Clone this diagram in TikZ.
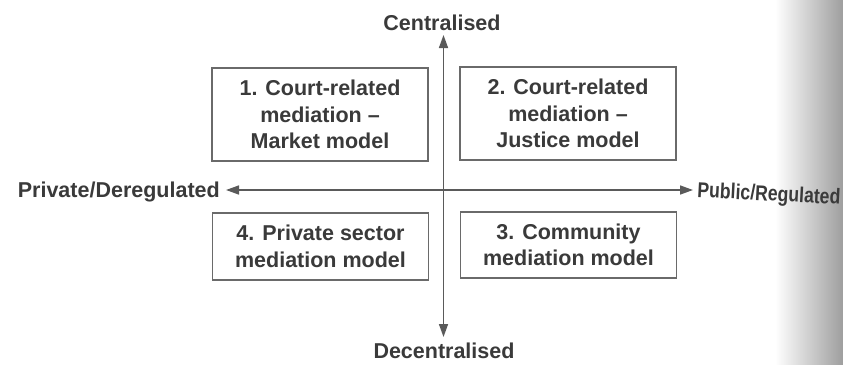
\documentclass[tikz,border=0pt]{standalone}
\usepackage{fontspec}
\setmainfont{Liberation Sans}
\usetikzlibrary{arrows.meta}
\definecolor{inkc}{HTML}{3A3A3A}
\definecolor{linec}{HTML}{5A5A5A}
\definecolor{boxc}{HTML}{6A6A6A}
\tikzset{
  quadbox/.style={draw=boxc, line width=1.3pt, minimum width=216pt, align=center, inner sep=0pt,
    text=inkc, font=\fontsize{21.5}{26.5}\selectfont\bfseries},
  axislabel/.style={text=inkc, font=\fontsize{21.5}{26.5}\selectfont\bfseries, inner sep=0pt},
  axisline/.style={draw=linec, line width=1.5pt, {Triangle[length=13pt,width=9pt]}-{Triangle[length=13pt,width=9pt]}}
}
\begin{document}
\begin{tikzpicture}[x=1pt,y=-1pt]
\useasboundingbox (0,0) rectangle (843,364);
\fill[white] (0,0) rectangle (843,364);
\shade[left color=white, right color=black!38] (775,0) rectangle (843,364);
% boxes
\node[quadbox, minimum height=93pt] (b1) at (320,114.5) {1. Court-related\\mediation --\\Market model};
\node[quadbox, minimum height=93pt] (b2) at (568,113.5) {2. Court-related\\mediation --\\Justice model};
\node[quadbox, minimum height=67pt] (b4) at (320.5,246.5) {4. Private sector\\mediation model};
\node[quadbox, minimum height=66pt] (b3) at (568.5,245) {3. Community\\mediation model};
% axis labels
\node[axislabel, anchor=base] (cen) at (442,30) {Centralised};
\node[axislabel, anchor=base] (dec) at (444,358) {Decentralised};
\node[axislabel, anchor=base east] (prv) at (220,197) {Private/Deregulated};
\node[axislabel, anchor=base west, rotate=-3, xscale=0.82] (pub) at (697,197) {Public/Regulated};
% axes
\coordinate (vtop) at (443.5,35);
\coordinate (vbot) at (443.5,337);
\coordinate (hl) at (226,190);
\coordinate (hr) at (693,190);
\draw[axisline] (vtop) -- (vbot);
\draw[axisline] (hl) -- (hr);
\end{tikzpicture}
\end{document}
